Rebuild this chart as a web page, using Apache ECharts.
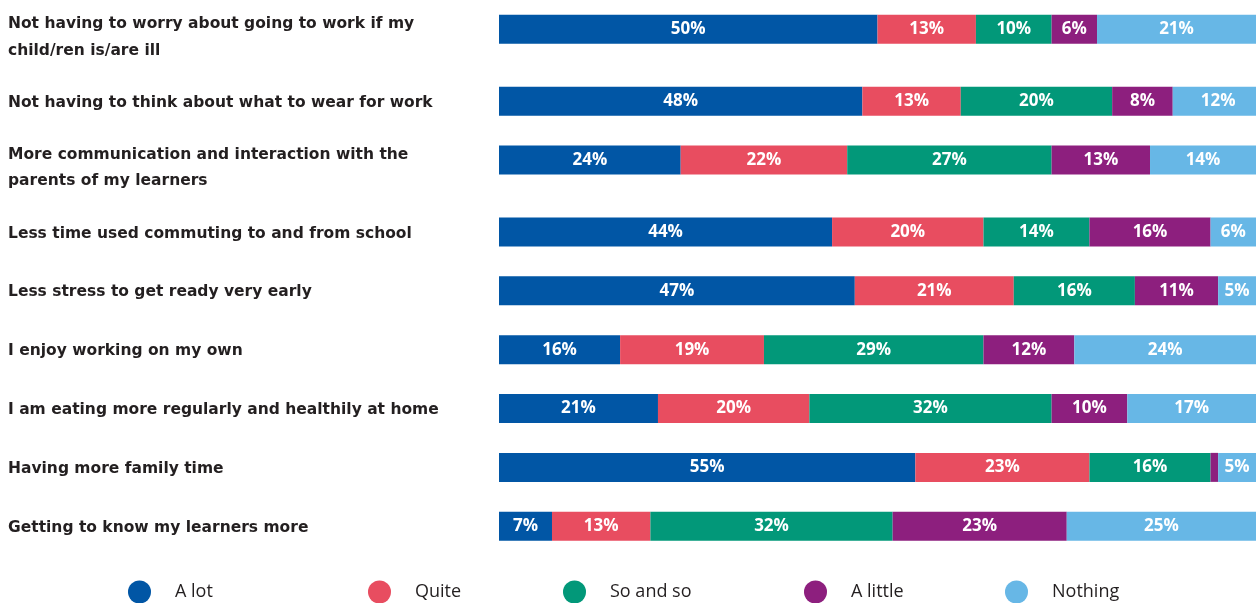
<!DOCTYPE html>
<html>
<head>
<meta charset="utf-8">
<script src="https://cdn.jsdelivr.net/npm/echarts@6/dist/echarts.min.js"></script>
<style>
  html, body { margin: 0; padding: 0; background: #ffffff; }
  #chart { width: 1256px; height: 603px; }
</style>
</head>
<body>
<div id="chart"></div>
<script>
// Survey statements (line breaks as they are set in the chart)
const categories = [
  'Not having to worry about going to work if my\nchild/ren is/are ill',
  'Not having to think about what to wear for work',
  'More communication and interaction with the\nparents of my learners',
  'Less time used commuting to and from school',
  'Less stress to get ready very early',
  'I enjoy working on my own',
  'I am eating more regularly and healthily at home',
  'Having more family time',
  'Getting to know my learners more'
];

// Answer levels
const seriesNames = ['A lot', 'Quite', 'So and so', 'A little', 'Nothing'];

// Share of respondents (%) per statement, one array per answer level
const aLot    = [50, 48, 24, 44, 47, 16, 21, 55, 7];
const quite   = [13, 13, 22, 20, 21, 19, 20, 23, 13];
const soAndSo = [10, 20, 27, 14, 16, 29, 32, 16, 32];
const aLittle = [6, 8, 13, 16, 11, 12, 10, 1, 23];
const nothing = [21, 12, 14, 6, 5, 24, 17, 5, 25];

const seriesValues = [aLot, quite, soAndSo, aLittle, nothing];
const colors = ['#0156a5', '#e84d60', '#029879', '#8d1f7e', '#67b7e6'];

const LABEL_FONT = '"DejaVu Sans", "Open Sans", sans-serif';
const TEXT_FONT = '"Open Sans", "Noto Sans", sans-serif';

// Rows sit on a fine category grid: a one-line statement takes 9 slots,
// a two-line statement takes 11, so wrapped labels get a little more room.
const rowSlot = [];
let slot = 0;
categories.forEach((c, i) => {
  if (i > 0) slot += categories[i - 1].includes('\n') ? 11 : 9;
  rowSlot.push(slot);
});
const slotCount = slot + 1;

const axisCategories = new Array(slotCount).fill('');
rowSlot.forEach((s, i) => { axisCategories[s] = categories[i]; });

function expand(values) {
  const out = new Array(slotCount).fill('-');
  rowSlot.forEach((s, i) => { out[s] = values[i]; });
  return out;
}

const chart = echarts.init(document.getElementById('chart'), null, { renderer: 'canvas' });

const legendLeft = [128, 368, 563, 804, 1005];

chart.setOption({
  backgroundColor: '#ffffff',
  animation: false,
  grid: { left: 499, right: 0, top: 26, height: 503.5, containLabel: false },
  xAxis: {
    type: 'value', min: 0, max: 100, show: false
  },
  yAxis: {
    type: 'category',
    inverse: true,
    data: axisCategories,
    axisLine: { show: false },
    axisTick: { show: false },
    splitLine: { show: false },
    axisLabel: {
      interval: 0,
      align: 'left',
      margin: 491,
      formatter: function (v) {
        if (!v) return '';
        const lines = v.split('\n');
        if (lines.length === 1) return '{t|' + v + '}';
        return '{s| }\n' + lines.map(l => '{t|' + l + '}').join('\n');
      },
      rich: {
        t: { fontFamily: LABEL_FONT, fontWeight: 700, fontSize: 15.5, color: '#231f20', lineHeight: 26.5, padding: [3, 0, 0, 0] },
        s: { fontSize: 2, lineHeight: 13 }
      }
    }
  },
  legend: seriesNames.map((n, i) => ({
    data: [n],
    left: legendLeft[i],
    top: 580.5,
    padding: 0,
    icon: 'circle',
    itemWidth: 23,
    itemHeight: 23,
    selectedMode: false,
    textStyle: { fontFamily: TEXT_FONT, fontSize: 18, color: '#231f20', padding: [0, 0, 0, 19] }
  })),
  series: seriesNames.map((n, i) => ({
    name: n,
    type: 'bar',
    stack: 'total',
    barWidth: 29,
    clip: false,
    itemStyle: { color: colors[i] },
    label: {
      show: true,
      position: 'inside',
      color: '#ffffff',
      fontFamily: TEXT_FONT,
      fontWeight: 700,
      fontSize: 17,
      formatter: p => (p.value >= 2 ? p.value + '%' : '')
    },
    emphasis: { disabled: true },
    data: expand(seriesValues[i])
  }))
});
</script>
</body>
</html>
